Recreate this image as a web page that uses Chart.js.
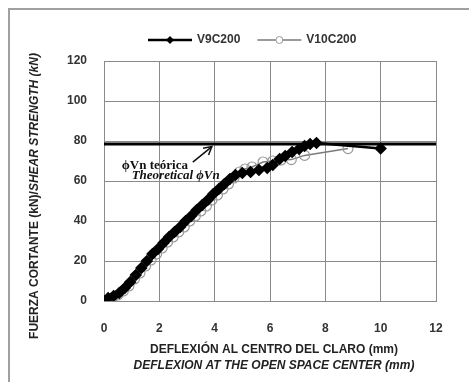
<!DOCTYPE html>
<html>
<head>
<meta charset="utf-8">
<script src="https://cdn.jsdelivr.net/npm/chart.js@4/dist/chart.umd.min.js"></script>
<style>
html,body{margin:0;padding:0;background:#fff;}
#wrap{position:relative;width:469px;height:382px;}
#frame{position:absolute;left:8px;top:8px;width:461px;height:374px;border-left:2px solid #a0a0a0;border-top:2px solid #a0a0a0;box-sizing:border-box;pointer-events:none;}
canvas{position:absolute;left:0;top:0;}
</style>
</head>
<body>
<div id="wrap"><canvas id="c" width="469" height="382"></canvas><div id="frame"></div></div>
<script>
// ---- data ----
const seriesNames = ["V9C200", "V10C200"];
const v9x = [0,0.15,0.35,0.55,0.75,0.95,1.15,1.35,1.55,1.75,1.95,2.15,2.35,2.55,2.75,2.95,3.15,3.35,3.55,3.75,3.95,4.15,4.35,4.55,4.75,5.0,5.3,5.6,5.9,6.1,6.35,6.55,6.8,7.05,7.25,7.45,7.68,10.0];
const v9y = [0,1.5,2.5,4,6.5,9.5,13,16.5,20,23.5,26,29,32,34.5,37,40,42.5,45.5,48,50.5,53.5,56,58.5,61,63,64,64.5,65.5,66.5,68,71,72.5,74.5,76,77.5,78.5,79,76.3];
const v10x = [0,0.3,0.5,0.7,0.9,1.1,1.3,1.5,1.7,1.9,2.1,2.3,2.5,2.7,2.9,3.1,3.3,3.5,3.7,3.9,4.1,4.3,4.5,4.7,4.9,5.1,5.35,5.75,6.1,6.4,6.77,7.25,8.82];
const v10y = [0,1.5,3,5,7.5,11,14,17.5,20.5,23.5,26.5,29.5,32,34.5,37,40,42.5,45,47.5,50.5,53,56,58.5,61.5,64.5,66,67,69.5,70,70.5,70.7,72.8,76.2];
const theoreticalX = [0, 12];
const theoreticalVn = 78.5;
const xTicks = [0,2,4,6,8,10,12];
const yTicks = [0,20,40,60,80,100,120];
const xTitle1 = "DEFLEXIÓN AL CENTRO DEL CLARO (mm)";
const xTitle2 = "DEFLEXION AT THE OPEN SPACE CENTER (mm)";
const yTitleA = "FUERZA CORTANTE (kN)/";
const yTitleB = "SHEAR STRENGTH (kN)";
const annot1 = "ϕVn teórica";
const annot2 = "Theoretical ϕVn";

const toPts = (xs, ys) => xs.map((x, i) => ({x: x, y: ys[i]}));

const extras = {
  id: 'extras',
  afterDraw(chart) {
    const ctx = chart.ctx;
    const xs = chart.scales.x, ys = chart.scales.y;
    ctx.save();
    // annotation
    ctx.fillStyle = '#111';
    ctx.textBaseline = 'middle';
    ctx.textAlign = 'left';
    ctx.font = 'bold 13px "Liberation Serif", "Times New Roman", serif';
    ctx.fillText(annot1, xs.getPixelForValue(0.64), ys.getPixelForValue(67.8));
    ctx.font = 'italic bold 13px "Liberation Serif", "Times New Roman", serif';
    ctx.fillText(annot2, xs.getPixelForValue(1.0), ys.getPixelForValue(62.8));
    // arrow
    const ax0 = xs.getPixelForValue(3.21), ay0 = ys.getPixelForValue(69.4);
    const ax1 = xs.getPixelForValue(3.9), ay1 = ys.getPixelForValue(77.2);
    ctx.strokeStyle = '#111'; ctx.lineWidth = 1.5;
    ctx.beginPath(); ctx.moveTo(ax0, ay0); ctx.lineTo(ax1, ay1); ctx.stroke();
    const ang = Math.atan2(ay1 - ay0, ax1 - ax0);
    const hl = 9;
    ctx.beginPath();
    ctx.moveTo(ax1 - hl*Math.cos(ang-0.5), ay1 - hl*Math.sin(ang-0.5));
    ctx.lineTo(ax1, ay1);
    ctx.lineTo(ax1 - hl*Math.cos(ang+0.5), ay1 - hl*Math.sin(ang+0.5));
    ctx.stroke();
    // x titles
    ctx.fillStyle = '#222';
    ctx.textAlign = 'center';
    ctx.font = 'bold 12px "Liberation Sans", Arial, sans-serif';
    ctx.fillText(xTitle1, 274, 350);
    ctx.font = 'italic bold 12px "Liberation Sans", Arial, sans-serif';
    ctx.fillText(xTitle2, 274, 366);
    // y title (rotated, mixed styles)
    ctx.translate(35, 196);
    ctx.rotate(-Math.PI/2);
    ctx.textAlign = 'left';
    const fA = 'bold 12px "Liberation Sans", Arial, sans-serif';
    const fB = 'italic bold 12px "Liberation Sans", Arial, sans-serif';
    ctx.font = fA; const wA = ctx.measureText(yTitleA).width;
    ctx.font = fB; const wB = ctx.measureText(yTitleB).width;
    let sx = -(wA + wB)/2;
    ctx.font = fA; ctx.fillText(yTitleA, sx, 0);
    ctx.font = fB; ctx.fillText(yTitleB, sx + wA, 0);
    ctx.restore();
    // legend
    ctx.save();
    ctx.font = 'bold 12px "Liberation Sans", Arial, sans-serif';
    ctx.textBaseline = 'middle';
    ctx.textAlign = 'left';
    let lx = 148; const ly = 40;
    chart.data.datasets.forEach(ds => {
      if (ds.hideInLegend) return;
      ctx.strokeStyle = ds.borderColor; ctx.lineWidth = ds.borderWidth;
      ctx.beginPath(); ctx.moveTo(lx, ly); ctx.lineTo(lx + 44, ly); ctx.stroke();
      const cx = lx + 22;
      ctx.lineWidth = 1;
      if (ds.pointStyle === 'rectRot') {
        ctx.fillStyle = ds.pointBackgroundColor;
        ctx.beginPath(); ctx.moveTo(cx, ly-4); ctx.lineTo(cx+4, ly); ctx.lineTo(cx, ly+4); ctx.lineTo(cx-4, ly); ctx.closePath(); ctx.fill();
      } else {
        ctx.fillStyle = '#fff'; ctx.strokeStyle = ds.pointBorderColor;
        ctx.beginPath(); ctx.arc(cx, ly, 3.5, 0, Math.PI*2); ctx.fill(); ctx.stroke();
      }
      ctx.fillStyle = '#333';
      ctx.fillText(ds.label, lx + 49, ly);
      lx += 49 + ctx.measureText(ds.label).width + 17;
    });
    ctx.restore();
  }
};

new Chart(document.getElementById('c'), {
  type: 'scatter',
  data: {
    datasets: [
      {label: seriesNames[0], data: toPts(v9x, v9y), showLine: true, borderColor: '#000', borderWidth: 2.5,
       pointStyle: 'rectRot', pointRadius: 4.5, pointBackgroundColor: '#000', pointBorderColor: '#000', order: 1},
      {label: seriesNames[1], data: toPts(v10x, v10y), showLine: true, borderColor: '#7a7a7a', borderWidth: 1.5,
       pointStyle: 'circle', pointRadius: 5, pointBackgroundColor: 'rgba(255,255,255,0)', pointBorderColor: '#999', pointBorderWidth: 1.2, order: 2},
      {label: 'theoretical', hideInLegend: true, data: theoreticalX.map(x => ({x: x, y: theoreticalVn})), showLine: true,
       borderColor: '#000', borderWidth: 3, pointRadius: 0, order: 0}
    ]
  },
  options: {
    responsive: false,
    animation: false,
    events: [],
    layout: {padding: {left: 8, top: 61, right: 33, bottom: 10}},
    plugins: {legend: {display: false}, tooltip: {enabled: false}},
    scales: {
      x: {
        type: 'linear', min: 0, max: 12,
        afterBuildTicks: s => { s.ticks = xTicks.map(v => ({value: v})); },
        afterFit: s => { s.height = 71; },
        grid: {color: '#8a8a8a', lineWidth: 1, drawTicks: false},
        border: {color: '#8a8a8a', width: 1},
        ticks: {padding: 20, color: '#333', font: {family: '"Liberation Sans", Arial, sans-serif', size: 12, weight: 'bold'}}
      },
      y: {
        type: 'linear', min: 0, max: 120,
        afterBuildTicks: s => { s.ticks = yTicks.map(v => ({value: v})); },
        afterFit: s => { s.width = 96; },
        grid: {color: '#8a8a8a', lineWidth: 1, drawTicks: false},
        border: {color: '#8a8a8a', width: 1},
        ticks: {padding: 17, color: '#333', font: {family: '"Liberation Sans", Arial, sans-serif', size: 12, weight: 'bold'}}
      }
    }
  },
  plugins: [extras]
});
</script>
</body>
</html>
